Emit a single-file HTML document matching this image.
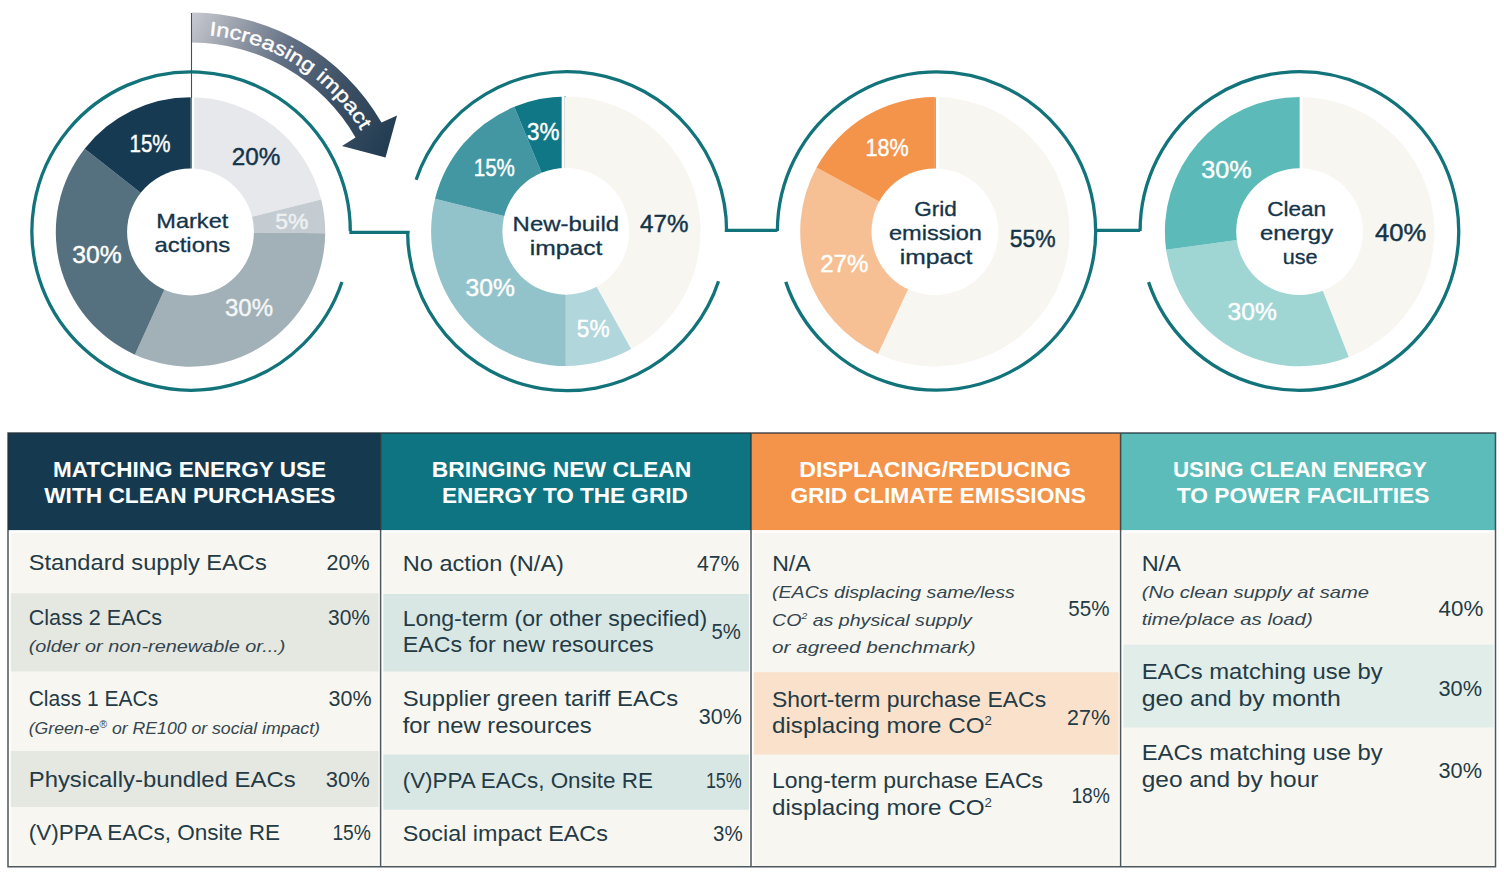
<!DOCTYPE html>
<html><head><meta charset="utf-8"><title>EAC impact</title>
<style>
html,body{margin:0;padding:0;background:#fff;width:1504px;height:875px;overflow:hidden}
svg{display:block;font-family:"Liberation Sans", sans-serif}
</style></head><body>
<svg width="1504" height="875" viewBox="0 0 1504 875">
<defs>
<linearGradient id="ag" gradientUnits="userSpaceOnUse" x1="191" y1="20" x2="390" y2="140">
<stop offset="0" stop-color="#c4c7cf"/><stop offset="0.1" stop-color="#aeb2bb"/><stop offset="0.25" stop-color="#8a92a0"/><stop offset="0.43" stop-color="#606e82"/><stop offset="0.67" stop-color="#405368"/><stop offset="1" stop-color="#243d52"/>
</linearGradient>
<path id="tp" d="M208.95,35.31 A198,198 0 0 1 371.88,151.97"/>
</defs>
<rect width="1504" height="875" fill="#fff"/>

<path d="M341.95,281.93 A159.2,159.2 0 1 1 350.30,231.05" fill="none" stroke="#12747a" stroke-width="3.3" stroke-linejoin="miter"/>
<path d="M718.53,281.23 A159.5,159.5 0 0 1 407.60,231.15" fill="none" stroke="#12747a" stroke-width="3.3" stroke-linejoin="miter"/>
<path d="M416.11,179.75 A159.5,159.5 0 0 1 726.60,231.15" fill="none" stroke="#12747a" stroke-width="3.3" stroke-linejoin="miter"/>
<path d="M777.40,231.00 A159.1,159.1 0 1 1 785.75,281.85" fill="none" stroke="#12747a" stroke-width="3.3" stroke-linejoin="miter"/>
<path d="M1140.10,231.00 A159.3,159.3 0 1 1 1148.54,282.15" fill="none" stroke="#12747a" stroke-width="3.3" stroke-linejoin="miter"/>
<path d="M349.30,232.4 L408.00,232.4 L408.00,233.15" fill="none" stroke="#12747a" stroke-width="3.3" stroke-linejoin="miter"/>
<path d="M726.40,229.65 L726.40,230.4 L777.40,230.4" fill="none" stroke="#12747a" stroke-width="3.3" stroke-linejoin="miter"/>
<path d="M1095.60,230.4 L1140.10,230.4" fill="none" stroke="#12747a" stroke-width="3.3" stroke-linejoin="miter"/>
<path d="M190.50,232.00 L190.50,97.30 A134.7,134.7 0 0 1 321.20,199.41 Z" fill="#e6e8ec" stroke="none" stroke-width="0" stroke-linejoin="round"/>
<path d="M190.50,232.00 L321.20,199.41 A134.7,134.7 0 0 1 325.19,233.18 Z" fill="#c4ccd1" stroke="none" stroke-width="0" stroke-linejoin="round"/>
<path d="M190.50,232.00 L325.19,233.18 A134.7,134.7 0 0 1 134.85,354.67 Z" fill="#a2b1b8" stroke="none" stroke-width="0" stroke-linejoin="round"/>
<path d="M190.50,232.00 L134.85,354.67 A134.7,134.7 0 0 1 84.65,148.70 Z" fill="#55707e" stroke="none" stroke-width="0" stroke-linejoin="round"/>
<path d="M190.50,232.00 L84.65,148.70 A134.7,134.7 0 0 1 190.50,97.30 Z" fill="#163a51" stroke="none" stroke-width="0" stroke-linejoin="round"/>
<rect x="190.5" y="97.80000000000001" width="1.3000000000000114" height="134.7" fill="#163a51"/>
<rect x="191.8" y="95.30000000000001" width="2.3999999999999773" height="134.7" fill="#fff"/>
<circle cx="190.5" cy="232" r="63.4" fill="#fff"/>
<path d="M565.80,231.30 L565.80,96.60 A134.7,134.7 0 0 1 631.10,349.11 Z" fill="#f8f6f0" stroke="none" stroke-width="0" stroke-linejoin="round"/>
<path d="M565.80,231.30 L631.10,349.11 A134.7,134.7 0 0 1 565.80,366.00 Z" fill="#b1d6db" stroke="none" stroke-width="0" stroke-linejoin="round"/>
<path d="M565.80,231.30 L565.80,366.00 A134.7,134.7 0 0 1 435.10,198.71 Z" fill="#93c3ca" stroke="none" stroke-width="0" stroke-linejoin="round"/>
<path d="M565.80,231.30 L435.10,198.71 A134.7,134.7 0 0 1 514.25,106.85 Z" fill="#4297a3" stroke="none" stroke-width="0" stroke-linejoin="round"/>
<path d="M565.80,231.30 L514.25,106.85 A134.7,134.7 0 0 1 565.80,96.60 Z" fill="#107786" stroke="none" stroke-width="0" stroke-linejoin="round"/>
<rect x="564.2" y="97.10000000000002" width="2.7999999999999092" height="134.7" fill="#f8f6f0"/>
<rect x="561.7" y="94.60000000000002" width="2.5" height="134.7" fill="#fff"/>
<circle cx="565.8" cy="231.3" r="63.4" fill="#fff"/>
<path d="M934.90,231.80 L934.90,97.10 A134.7,134.7 0 1 1 877.97,353.88 Z" fill="#f8f6f0" stroke="none" stroke-width="0" stroke-linejoin="round"/>
<path d="M934.90,231.80 L877.97,353.88 A134.7,134.7 0 0 1 816.52,167.53 Z" fill="#f7bf94" stroke="none" stroke-width="0" stroke-linejoin="round"/>
<path d="M934.90,231.80 L816.52,167.53 A134.7,134.7 0 0 1 934.90,97.10 Z" fill="#f4934a" stroke="none" stroke-width="0" stroke-linejoin="round"/>
<rect x="934.9" y="97.60000000000002" width="1.1000000000000227" height="134.7" fill="#f4934a"/>
<rect x="936" y="95.10000000000002" width="2.7999999999999545" height="134.7" fill="#fff"/>
<circle cx="934.9" cy="231.8" r="63.4" fill="#fff"/>
<path d="M1299.60,231.60 L1299.60,96.90 A134.7,134.7 0 0 1 1348.75,357.01 Z" fill="#f8f6f0" stroke="none" stroke-width="0" stroke-linejoin="round"/>
<path d="M1299.60,231.60 L1348.75,357.01 A134.7,134.7 0 0 1 1166.11,249.65 Z" fill="#9fd6d3" stroke="none" stroke-width="0" stroke-linejoin="round"/>
<path d="M1299.60,231.60 L1166.11,249.65 A134.7,134.7 0 0 1 1299.60,96.90 Z" fill="#5cbab8" stroke="none" stroke-width="0" stroke-linejoin="round"/>
<rect x="1299.6" y="97.4" width="0.3000000000001819" height="134.7" fill="#5cbab8"/>
<rect x="1299.9" y="94.9" width="2.5" height="134.7" fill="#fff"/>
<circle cx="1299.6" cy="231.6" r="63.4" fill="#fff"/>
<path d="M192.15,12.50 A220,220 0 0 1 381.53,122.50 L397.07,115.44 L385.52,157.44 L341.99,146.03 L355.54,137.50 A190,190 0 0 0 191.99,42.50 Z" fill="url(#ag)"/>
<line x1="191.5" y1="13" x2="191.5" y2="98" stroke="#4a4f55" stroke-width="1.1"/>
<text font-size="19.8" fill="#fff" stroke="#fff" stroke-width="0.35" font-weight="normal"><textPath href="#tp" textLength="186" lengthAdjust="spacingAndGlyphs">Increasing impact</textPath></text>
<text x="129.5" y="152.4" font-size="24.5" fill="#ffffff" font-weight="normal" font-style="normal" text-anchor="start" textLength="41.0" lengthAdjust="spacingAndGlyphs" stroke="#ffffff" stroke-width="0.45">15%</text>
<text x="231.7" y="164.7" font-size="24.5" fill="#14344a" font-weight="normal" font-style="normal" text-anchor="start" textLength="48.6" lengthAdjust="spacingAndGlyphs" stroke="#14344a" stroke-width="0.45">20%</text>
<text x="275.3" y="228.9" font-size="22.5" fill="#eef1f3" font-weight="normal" font-style="normal" text-anchor="start" textLength="33.2" lengthAdjust="spacingAndGlyphs" stroke="#eef1f3" stroke-width="0.45">5%</text>
<text x="72.3" y="263.1" font-size="24.5" fill="#ffffff" font-weight="normal" font-style="normal" text-anchor="start" textLength="49.4" lengthAdjust="spacingAndGlyphs" stroke="#ffffff" stroke-width="0.45">30%</text>
<text x="225.0" y="316.0" font-size="24.5" fill="#f4f6f7" font-weight="normal" font-style="normal" text-anchor="start" textLength="48.0" lengthAdjust="spacingAndGlyphs" stroke="#f4f6f7" stroke-width="0.45">30%</text>
<text x="156.3" y="227.8" font-size="19.8" fill="#14344a" font-weight="normal" font-style="normal" text-anchor="start" textLength="72.0" lengthAdjust="spacingAndGlyphs" stroke="#14344a" stroke-width="0.3">Market</text>
<text x="154.5" y="252.0" font-size="19.8" fill="#14344a" font-weight="normal" font-style="normal" text-anchor="start" textLength="75.7" lengthAdjust="spacingAndGlyphs" stroke="#14344a" stroke-width="0.3">actions</text>
<text x="526.9" y="140.0" font-size="24.5" fill="#ffffff" font-weight="normal" font-style="normal" text-anchor="start" textLength="32.5" lengthAdjust="spacingAndGlyphs" stroke="#ffffff" stroke-width="0.45">3%</text>
<text x="473.7" y="175.7" font-size="24.5" fill="#ffffff" font-weight="normal" font-style="normal" text-anchor="start" textLength="41.2" lengthAdjust="spacingAndGlyphs" stroke="#ffffff" stroke-width="0.45">15%</text>
<text x="640.0" y="231.7" font-size="24.5" fill="#14344a" font-weight="normal" font-style="normal" text-anchor="start" textLength="48.4" lengthAdjust="spacingAndGlyphs" stroke="#14344a" stroke-width="0.45">47%</text>
<text x="512.6" y="230.5" font-size="19.8" fill="#14344a" font-weight="normal" font-style="normal" text-anchor="start" textLength="106.5" lengthAdjust="spacingAndGlyphs" stroke="#14344a" stroke-width="0.3">New-build</text>
<text x="529.8" y="255.2" font-size="19.8" fill="#14344a" font-weight="normal" font-style="normal" text-anchor="start" textLength="72.6" lengthAdjust="spacingAndGlyphs" stroke="#14344a" stroke-width="0.3">impact</text>
<text x="465.6" y="295.7" font-size="24.5" fill="#ffffff" font-weight="normal" font-style="normal" text-anchor="start" textLength="49.3" lengthAdjust="spacingAndGlyphs" stroke="#ffffff" stroke-width="0.45">30%</text>
<text x="576.8" y="336.8" font-size="24.5" fill="#ffffff" font-weight="normal" font-style="normal" text-anchor="start" textLength="32.8" lengthAdjust="spacingAndGlyphs" stroke="#ffffff" stroke-width="0.45">5%</text>
<text x="865.4" y="156.3" font-size="24.5" fill="#ffffff" font-weight="normal" font-style="normal" text-anchor="start" textLength="43.2" lengthAdjust="spacingAndGlyphs" stroke="#ffffff" stroke-width="0.45">18%</text>
<text x="1009.8" y="247.4" font-size="24.5" fill="#14344a" font-weight="normal" font-style="normal" text-anchor="start" textLength="45.9" lengthAdjust="spacingAndGlyphs" stroke="#14344a" stroke-width="0.45">55%</text>
<text x="820.2" y="271.5" font-size="24.5" fill="#ffffff" font-weight="normal" font-style="normal" text-anchor="start" textLength="48.1" lengthAdjust="spacingAndGlyphs" stroke="#ffffff" stroke-width="0.45">27%</text>
<text x="914.2" y="215.7" font-size="19.8" fill="#14344a" font-weight="normal" font-style="normal" text-anchor="start" textLength="42.6" lengthAdjust="spacingAndGlyphs" stroke="#14344a" stroke-width="0.3">Grid</text>
<text x="888.9" y="240.4" font-size="19.8" fill="#14344a" font-weight="normal" font-style="normal" text-anchor="start" textLength="93.1" lengthAdjust="spacingAndGlyphs" stroke="#14344a" stroke-width="0.3">emission</text>
<text x="899.8" y="264.2" font-size="19.8" fill="#14344a" font-weight="normal" font-style="normal" text-anchor="start" textLength="72.6" lengthAdjust="spacingAndGlyphs" stroke="#14344a" stroke-width="0.3">impact</text>
<text x="1201.2" y="178.0" font-size="24.5" fill="#ffffff" font-weight="normal" font-style="normal" text-anchor="start" textLength="50.4" lengthAdjust="spacingAndGlyphs" stroke="#ffffff" stroke-width="0.45">30%</text>
<text x="1375.1" y="240.8" font-size="24.5" fill="#14344a" font-weight="normal" font-style="normal" text-anchor="start" textLength="51.1" lengthAdjust="spacingAndGlyphs" stroke="#14344a" stroke-width="0.45">40%</text>
<text x="1227.6" y="319.5" font-size="24.5" fill="#ffffff" font-weight="normal" font-style="normal" text-anchor="start" textLength="49.2" lengthAdjust="spacingAndGlyphs" stroke="#ffffff" stroke-width="0.45">30%</text>
<text x="1267.2" y="216.4" font-size="19.8" fill="#14344a" font-weight="normal" font-style="normal" text-anchor="start" textLength="58.8" lengthAdjust="spacingAndGlyphs" stroke="#14344a" stroke-width="0.3">Clean</text>
<text x="1260.0" y="240.4" font-size="19.8" fill="#14344a" font-weight="normal" font-style="normal" text-anchor="start" textLength="73.1" lengthAdjust="spacingAndGlyphs" stroke="#14344a" stroke-width="0.3">energy</text>
<text x="1282.8" y="263.6" font-size="19.8" fill="#14344a" font-weight="normal" font-style="normal" text-anchor="start" textLength="34.8" lengthAdjust="spacingAndGlyphs" stroke="#14344a" stroke-width="0.3">use</text>
<rect x="8.0" y="432.9" width="372.6" height="97.20000000000005" fill="#153a4f"/>
<rect x="380.6" y="432.9" width="370.4" height="97.20000000000005" fill="#0f7482"/>
<rect x="751.0" y="432.9" width="369.5999999999999" height="97.20000000000005" fill="#f4944b"/>
<rect x="1120.6" y="432.9" width="374.9000000000001" height="97.20000000000005" fill="#5bbcb9"/>
<rect x="10.8" y="532.6" width="367.8" height="333.4" fill="#f8f6f0"/>
<rect x="383.40000000000003" y="532.6" width="365.59999999999997" height="333.4" fill="#f8f6f0"/>
<rect x="753.8" y="532.6" width="364.7999999999999" height="333.4" fill="#f8f6f0"/>
<rect x="1123.3999999999999" y="532.6" width="370.1000000000001" height="333.4" fill="#f8f6f0"/>
<rect x="10.8" y="593.3" width="367.8" height="78.20000000000005" fill="#e5e7e1"/>
<rect x="10.8" y="751" width="367.8" height="56" fill="#e5e7e1"/>
<rect x="383.40000000000003" y="594" width="365.59999999999997" height="77.5" fill="#d8e7e4"/>
<rect x="383.40000000000003" y="754.6" width="365.59999999999997" height="55.10000000000002" fill="#d8e7e4"/>
<rect x="753.8" y="672.2" width="364.7999999999999" height="82.39999999999998" fill="#fae1cb"/>
<rect x="1123.3999999999999" y="644.6" width="370.1000000000001" height="82.89999999999998" fill="#e1ede8"/>
<path d="M8.0,432.9 H1495.5 V866.8 H8.0 Z M380.6,432.9 V866.8 M751.0,432.9 V866.8 M1120.6,432.9 V866.8" fill="none" stroke="#24323a" stroke-opacity="0.82" stroke-width="1.5"/>
<text x="53.0" y="477.3" font-size="22.6" fill="#fff" font-weight="bold" font-style="normal" text-anchor="start" textLength="273.0" lengthAdjust="spacingAndGlyphs">MATCHING ENERGY USE</text>
<text x="44.2" y="502.9" font-size="22.6" fill="#fff" font-weight="bold" font-style="normal" text-anchor="start" textLength="291.3" lengthAdjust="spacingAndGlyphs">WITH CLEAN PURCHASES</text>
<text x="431.8" y="477.3" font-size="22.6" fill="#fff" font-weight="bold" font-style="normal" text-anchor="start" textLength="259.5" lengthAdjust="spacingAndGlyphs">BRINGING NEW CLEAN</text>
<text x="441.9" y="502.9" font-size="22.6" fill="#fff" font-weight="bold" font-style="normal" text-anchor="start" textLength="245.8" lengthAdjust="spacingAndGlyphs">ENERGY TO THE GRID</text>
<text x="799.3" y="477.3" font-size="22.6" fill="#fff" font-weight="bold" font-style="normal" text-anchor="start" textLength="271.6" lengthAdjust="spacingAndGlyphs">DISPLACING/REDUCING</text>
<text x="790.4" y="502.9" font-size="22.6" fill="#fff" font-weight="bold" font-style="normal" text-anchor="start" textLength="295.6" lengthAdjust="spacingAndGlyphs">GRID CLIMATE EMISSIONS</text>
<text x="1173.0" y="477.3" font-size="22.6" fill="#fff" font-weight="bold" font-style="normal" text-anchor="start" textLength="254.0" lengthAdjust="spacingAndGlyphs">USING CLEAN ENERGY</text>
<text x="1176.8" y="502.9" font-size="22.6" fill="#fff" font-weight="bold" font-style="normal" text-anchor="start" textLength="252.7" lengthAdjust="spacingAndGlyphs">TO POWER FACILITIES</text>
<text x="28.7" y="570.4" font-size="22" fill="#243b46" font-weight="normal" font-style="normal" text-anchor="start" textLength="238.1" lengthAdjust="spacingAndGlyphs">Standard supply EACs</text>
<text x="326.6" y="570.4" font-size="22" fill="#243b46" font-weight="normal" font-style="normal" text-anchor="start" textLength="43.1" lengthAdjust="spacingAndGlyphs">20%</text>
<text x="28.7" y="625.0" font-size="22" fill="#243b46" font-weight="normal" font-style="normal" text-anchor="start" textLength="133.5" lengthAdjust="spacingAndGlyphs">Class 2 EACs</text>
<text x="328.0" y="625.0" font-size="22" fill="#243b46" font-weight="normal" font-style="normal" text-anchor="start" textLength="42.0" lengthAdjust="spacingAndGlyphs">30%</text>
<text x="28.7" y="651.7" font-size="17" fill="#33464f" font-weight="normal" font-style="italic" text-anchor="start" textLength="256.7" lengthAdjust="spacingAndGlyphs">(older or non-renewable or...)</text>
<text x="28.7" y="706.4" font-size="22" fill="#243b46" font-weight="normal" font-style="normal" text-anchor="start" textLength="129.5" lengthAdjust="spacingAndGlyphs">Class 1 EACs</text>
<text x="328.5" y="706.4" font-size="22" fill="#243b46" font-weight="normal" font-style="normal" text-anchor="start" textLength="43.0" lengthAdjust="spacingAndGlyphs">30%</text>
<text x="28.7" y="733.8" font-size="17" fill="#33464f" font-weight="normal" font-style="italic" text-anchor="start" textLength="291.3" lengthAdjust="spacingAndGlyphs">(Green-e<tspan font-size="10" dy="-6">®</tspan><tspan dy="6"> or RE100 or social impact)</tspan></text>
<text x="28.7" y="787.0" font-size="22" fill="#243b46" font-weight="normal" font-style="normal" text-anchor="start" textLength="267.0" lengthAdjust="spacingAndGlyphs">Physically-bundled EACs</text>
<text x="325.8" y="787.0" font-size="22" fill="#243b46" font-weight="normal" font-style="normal" text-anchor="start" textLength="43.9" lengthAdjust="spacingAndGlyphs">30%</text>
<text x="28.7" y="840.0" font-size="22" fill="#243b46" font-weight="normal" font-style="normal" text-anchor="start" textLength="251.3" lengthAdjust="spacingAndGlyphs">(V)PPA EACs, Onsite RE</text>
<text x="332.4" y="840.0" font-size="22" fill="#243b46" font-weight="normal" font-style="normal" text-anchor="start" textLength="38.6" lengthAdjust="spacingAndGlyphs">15%</text>
<text x="402.7" y="571.0" font-size="22" fill="#243b46" font-weight="normal" font-style="normal" text-anchor="start" textLength="161.3" lengthAdjust="spacingAndGlyphs">No action (N/A)</text>
<text x="697.0" y="571.0" font-size="22" fill="#243b46" font-weight="normal" font-style="normal" text-anchor="start" textLength="42.3" lengthAdjust="spacingAndGlyphs">47%</text>
<text x="402.7" y="625.5" font-size="22" fill="#243b46" font-weight="normal" font-style="normal" text-anchor="start" textLength="304.5" lengthAdjust="spacingAndGlyphs">Long-term (or other specified)</text>
<text x="402.7" y="652.0" font-size="22" fill="#243b46" font-weight="normal" font-style="normal" text-anchor="start" textLength="250.9" lengthAdjust="spacingAndGlyphs">EACs for new resources</text>
<text x="711.5" y="639.4" font-size="22" fill="#243b46" font-weight="normal" font-style="normal" text-anchor="start" textLength="29.3" lengthAdjust="spacingAndGlyphs">5%</text>
<text x="402.7" y="706.0" font-size="22" fill="#243b46" font-weight="normal" font-style="normal" text-anchor="start" textLength="275.4" lengthAdjust="spacingAndGlyphs">Supplier green tariff EACs</text>
<text x="402.7" y="732.7" font-size="22" fill="#243b46" font-weight="normal" font-style="normal" text-anchor="start" textLength="189.0" lengthAdjust="spacingAndGlyphs">for new resources</text>
<text x="698.8" y="723.8" font-size="22" fill="#243b46" font-weight="normal" font-style="normal" text-anchor="start" textLength="43.0" lengthAdjust="spacingAndGlyphs">30%</text>
<text x="402.7" y="787.7" font-size="22" fill="#243b46" font-weight="normal" font-style="normal" text-anchor="start" textLength="250.2" lengthAdjust="spacingAndGlyphs">(V)PPA EACs, Onsite RE</text>
<text x="705.9" y="787.7" font-size="22" fill="#243b46" font-weight="normal" font-style="normal" text-anchor="start" textLength="35.9" lengthAdjust="spacingAndGlyphs">15%</text>
<text x="402.7" y="840.5" font-size="22" fill="#243b46" font-weight="normal" font-style="normal" text-anchor="start" textLength="205.2" lengthAdjust="spacingAndGlyphs">Social impact EACs</text>
<text x="713.0" y="840.5" font-size="22" fill="#243b46" font-weight="normal" font-style="normal" text-anchor="start" textLength="29.6" lengthAdjust="spacingAndGlyphs">3%</text>
<text x="772.2" y="571.0" font-size="22" fill="#243b46" font-weight="normal" font-style="normal" text-anchor="start" textLength="38.4" lengthAdjust="spacingAndGlyphs">N/A</text>
<text x="772.0" y="598.2" font-size="17" fill="#33464f" font-weight="normal" font-style="italic" text-anchor="start" textLength="242.8" lengthAdjust="spacingAndGlyphs">(EACs displacing same/less</text>
<text x="772.0" y="625.5" font-size="17" fill="#33464f" font-weight="normal" font-style="italic" text-anchor="start" textLength="199.8" lengthAdjust="spacingAndGlyphs">CO<tspan font-size="9" dy="-7">2</tspan><tspan dy="7"> as physical supply</tspan></text>
<text x="772.0" y="652.5" font-size="17" fill="#33464f" font-weight="normal" font-style="italic" text-anchor="start" textLength="203.6" lengthAdjust="spacingAndGlyphs">or agreed benchmark)</text>
<text x="1068.3" y="616.0" font-size="22" fill="#243b46" font-weight="normal" font-style="normal" text-anchor="start" textLength="41.2" lengthAdjust="spacingAndGlyphs">55%</text>
<text x="772.0" y="706.6" font-size="22" fill="#243b46" font-weight="normal" font-style="normal" text-anchor="start" textLength="274.1" lengthAdjust="spacingAndGlyphs">Short-term purchase EACs</text>
<text x="772.0" y="733.0" font-size="22" fill="#243b46" font-weight="normal" font-style="normal" text-anchor="start" textLength="220.0" lengthAdjust="spacingAndGlyphs">displacing more CO<tspan font-size="12" dy="-8">2</tspan></text>
<text x="1067.1" y="724.8" font-size="22" fill="#243b46" font-weight="normal" font-style="normal" text-anchor="start" textLength="42.9" lengthAdjust="spacingAndGlyphs">27%</text>
<text x="772.0" y="787.5" font-size="22" fill="#243b46" font-weight="normal" font-style="normal" text-anchor="start" textLength="271.0" lengthAdjust="spacingAndGlyphs">Long-term purchase EACs</text>
<text x="772.0" y="814.8" font-size="22" fill="#243b46" font-weight="normal" font-style="normal" text-anchor="start" textLength="220.0" lengthAdjust="spacingAndGlyphs">displacing more CO<tspan font-size="12" dy="-8">2</tspan></text>
<text x="1071.4" y="802.6" font-size="22" fill="#243b46" font-weight="normal" font-style="normal" text-anchor="start" textLength="38.6" lengthAdjust="spacingAndGlyphs">18%</text>
<text x="1141.7" y="570.8" font-size="22" fill="#243b46" font-weight="normal" font-style="normal" text-anchor="start" textLength="39.1" lengthAdjust="spacingAndGlyphs">N/A</text>
<text x="1141.7" y="598.4" font-size="17" fill="#33464f" font-weight="normal" font-style="italic" text-anchor="start" textLength="227.2" lengthAdjust="spacingAndGlyphs">(No clean supply at same</text>
<text x="1141.7" y="625.0" font-size="17" fill="#33464f" font-weight="normal" font-style="italic" text-anchor="start" textLength="171.0" lengthAdjust="spacingAndGlyphs">time/place as load)</text>
<text x="1438.6" y="615.5" font-size="22" fill="#243b46" font-weight="normal" font-style="normal" text-anchor="start" textLength="44.7" lengthAdjust="spacingAndGlyphs">40%</text>
<text x="1141.7" y="678.9" font-size="22" fill="#243b46" font-weight="normal" font-style="normal" text-anchor="start" textLength="241.1" lengthAdjust="spacingAndGlyphs">EACs matching use by</text>
<text x="1141.7" y="705.7" font-size="22" fill="#243b46" font-weight="normal" font-style="normal" text-anchor="start" textLength="199.1" lengthAdjust="spacingAndGlyphs">geo and by month</text>
<text x="1438.5" y="695.7" font-size="22" fill="#243b46" font-weight="normal" font-style="normal" text-anchor="start" textLength="43.5" lengthAdjust="spacingAndGlyphs">30%</text>
<text x="1141.7" y="760.1" font-size="22" fill="#243b46" font-weight="normal" font-style="normal" text-anchor="start" textLength="241.1" lengthAdjust="spacingAndGlyphs">EACs matching use by</text>
<text x="1141.7" y="787.2" font-size="22" fill="#243b46" font-weight="normal" font-style="normal" text-anchor="start" textLength="176.7" lengthAdjust="spacingAndGlyphs">geo and by hour</text>
<text x="1438.5" y="778.0" font-size="22" fill="#243b46" font-weight="normal" font-style="normal" text-anchor="start" textLength="43.5" lengthAdjust="spacingAndGlyphs">30%</text>
</svg></body></html>
